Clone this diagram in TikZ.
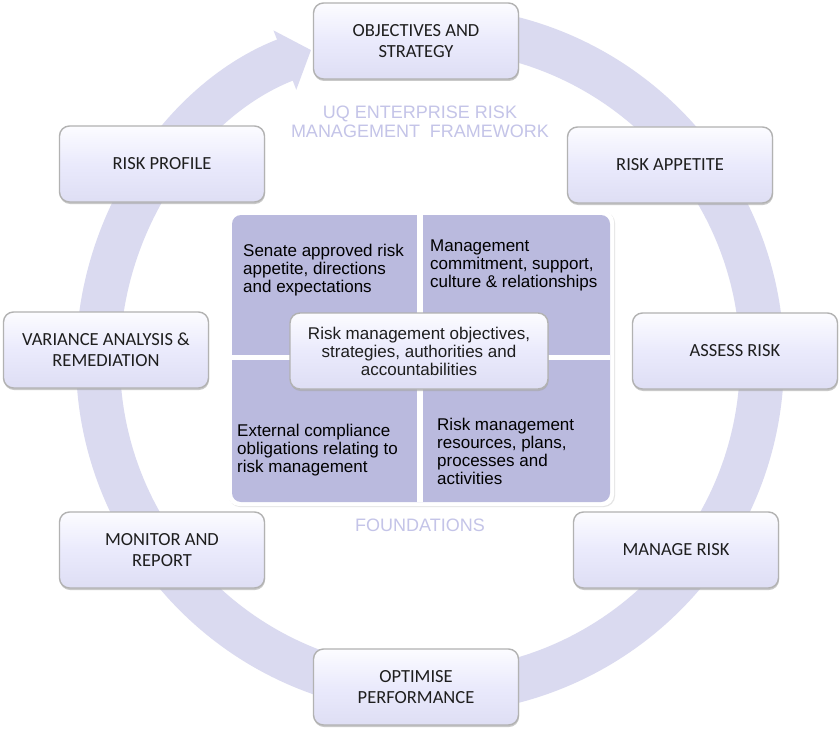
\documentclass[tikz,border=0pt]{standalone}
\usepackage{fontspec}
\setmainfont{Liberation Sans}
\newfontfamily\boxfont{Carlito}
\usetikzlibrary{arrows.meta,shadows,calc}
\definecolor{ringc}{RGB}{218,218,240}
\definecolor{quadc}{RGB}{186,186,222}
\definecolor{headc}{RGB}{196,196,232}
\definecolor{boxtop}{RGB}{252,252,255}
\definecolor{boxmid}{RGB}{234,234,252}
\definecolor{boxbot}{RGB}{222,222,244}
\definecolor{txt}{RGB}{30,30,30}
\begin{document}
\begin{tikzpicture}[x=1pt,y=-1pt,
  stepbox/.style={rounded corners=10pt, draw=gray!60, line width=1.4pt,
    top color=boxtop, bottom color=boxbot, middle color=boxmid,
    minimum width=205pt, minimum height=76pt, align=center, inner sep=2pt,
    font=\boxfont\fontsize{18.5}{21}\selectfont, text=txt,
    drop shadow={shadow xshift=0.5pt, shadow yshift=-2pt, fill=gray!70, opacity=0.6}},
  quadtext/.style={anchor=north west, align=left, inner sep=0pt, text=black,
    font=\fontsize{17}{18}\selectfont},
  headtext/.style={align=center, inner sep=0pt, text=headc,
    font=\fontsize{18}{19}\selectfont}]
\useasboundingbox (0,0) rectangle (840,730);
\fill[white] (0,0) rectangle (840,730);
% ring arrow
\coordinate (rc) at (430,360);
\draw[ringc, line width=44pt, -{Triangle[length=28pt,width=62pt]}]
  ($(rc)+(-85:332)$) arc[start angle=-85, end angle=249, radius=332];
% central panel
\fill[white, drop shadow={shadow xshift=1pt, shadow yshift=-1pt, fill=gray!40, opacity=0.5}, rounded corners=11pt] (228,211) rectangle (614,506);
\fill[quadc, rounded corners=9pt] (232,215) rectangle (610,502);
\fill[white] (417,215) rectangle (423,502);
\fill[white] (232,355) rectangle (610,360);
\node[quadtext] (q1) at (243,244) {Senate approved risk\\appetite, directions\\and expectations};
\node[quadtext] (q2) at (430,240) {Management\\commitment, support,\\culture \& relationships};
\node[quadtext] (q3) at (237,424) {External compliance\\obligations relating to\\risk management};
\node[quadtext] (q4) at (437,418) {Risk management\\resources, plans,\\processes and\\activities};
\node[stepbox, minimum width=258pt, font=\fontsize{17}{18}\selectfont] (core) at (419,351)
  {Risk management objectives,\\strategies, authorities and\\accountabilities};
% headings
\node[headtext] (title) at (420,122) {UQ ENTERPRISE RISK\\MANAGEMENT\ \ FRAMEWORK};
\node[headtext] (found) at (420,525) {FOUNDATIONS};
% step boxes
\node[stepbox] (obj) at (416,41) {OBJECTIVES AND\\STRATEGY};
\node[stepbox] (prof) at (162,164) {RISK PROFILE};
\node[stepbox] (app) at (670,165) {RISK APPETITE};
\node[stepbox] (var) at (106,350) {VARIANCE ANALYSIS \&\\REMEDIATION};
\node[stepbox] (ass) at (735,351) {ASSESS RISK};
\node[stepbox] (mon) at (162,550) {MONITOR AND\\REPORT};
\node[stepbox] (man) at (676,550) {MANAGE RISK};
\node[stepbox] (opt) at (416,687) {OPTIMISE\\PERFORMANCE};
\end{tikzpicture}
\end{document}
